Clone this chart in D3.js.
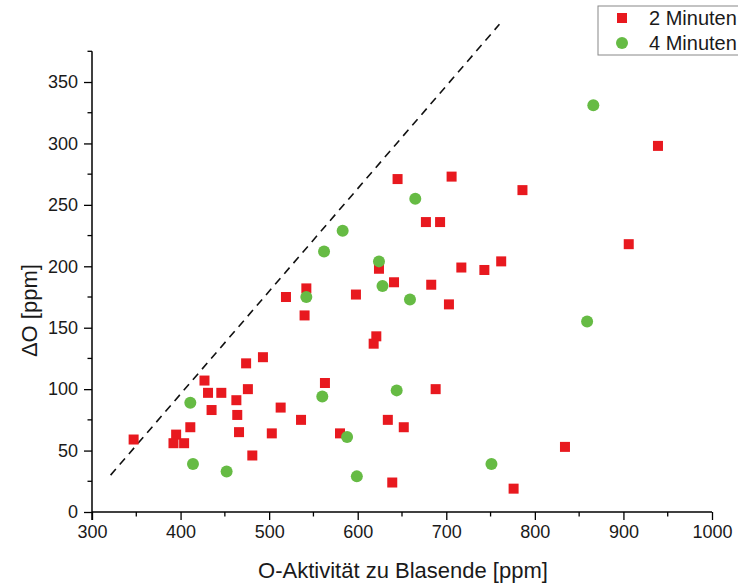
<!DOCTYPE html>
<html>
<head>
<meta charset="utf-8">
<script src="https://cdn.jsdelivr.net/npm/d3@7/dist/d3.min.js"></script>
<style>
  html, body { margin: 0; padding: 0; background: #fff; }
  svg { display: block; font-family: "Liberation Sans", Arial, sans-serif; }
</style>
</head>
<body>
<svg id="chart" width="738" height="586"></svg>
<script>
// O activity at end of blowing vs. oxygen drop, two blowing durations
const seriesNames = ["2 Minuten", "4 Minuten"];

const min2X = [347, 395, 392, 404, 411, 427, 431, 446, 435, 463, 464, 466, 476, 474, 493, 481,
               513, 503, 536, 540, 621, 618, 563, 688, 634, 652, 580, 639, 703, 834, 776, 645,
               706, 677, 693, 624, 641, 683, 717, 743, 762, 598, 542, 519, 939, 786, 906];
const min2Y = [59, 63, 56, 56, 69, 107, 97, 97, 83, 91, 79, 65, 100, 121, 126, 46,
               85, 64, 75, 160, 143, 137, 105, 100, 75, 69, 64, 24, 169, 53, 19, 271,
               273, 236, 236, 198, 187, 185, 199, 197, 204, 177, 182, 175, 298, 262, 218];

const min4X = [411, 414, 452, 560, 644, 588, 599, 859, 751, 665, 583, 562, 624, 628, 542, 659, 866];
const min4Y = [89, 39, 33, 94, 99, 61, 29, 155, 39, 255, 229, 212, 204, 184, 175, 173, 331];

// dashed reference line end points
const guideX = [321, 760];
const guideY = [30, 397];

const xTicks = [300, 400, 500, 600, 700, 800, 900, 1000];
const yTicks = [0, 50, 100, 150, 200, 250, 300, 350];

const xTitle = "O-Aktivität zu Blasende [ppm]";
const yTitle = "ΔO [ppm]";

const RED = "#e8191f";
const GREEN = "#66bb44";

const svg = d3.select("#chart");
const x = d3.scaleLinear().domain([300, 1000]).range([92, 712]);
const y = d3.scaleLinear().domain([0, 375]).range([512, 51.3]);

// dashed guide line
svg.append("line")
  .attr("x1", x(guideX[0])).attr("y1", y(guideY[0]))
  .attr("x2", x(guideX[1])).attr("y2", y(guideY[1]))
  .attr("stroke", "#111").attr("stroke-width", 1.6)
  .attr("stroke-dasharray", "8,6");

// axes
const xMinor = d3.range(350, 1000, 100);
const yMinor = d3.range(25, 400, 50);

const gx = svg.append("g").attr("transform", "translate(0,512)");
gx.call(d3.axisBottom(x).tickValues(xTicks).tickFormat(d3.format("d")).tickSize(8).tickPadding(5));
gx.append("g").selectAll("line").data(xMinor).join("line")
  .attr("x1", d => x(d)).attr("x2", d => x(d)).attr("y1", 0).attr("y2", 4.5)
  .attr("stroke", "#000").attr("stroke-width", 1.3);

const gy = svg.append("g").attr("transform", "translate(92,0)");
gy.call(d3.axisLeft(y).tickValues(yTicks).tickSize(8).tickPadding(6));
gy.append("g").selectAll("line").data(yMinor).join("line")
  .attr("y1", d => y(d)).attr("y2", d => y(d)).attr("x1", 0).attr("x2", -4.5)
  .attr("stroke", "#000").attr("stroke-width", 1.3);

[gx, gy].forEach(g => {
  g.select(".domain").attr("stroke", "#000").attr("stroke-width", 1.5);
  g.selectAll(".tick line").attr("stroke", "#000").attr("stroke-width", 1.3);
  g.selectAll(".tick text").attr("fill", "#1a1a1a")
    .style("font-size", "18px").style("font-family", "'Liberation Sans', Arial, sans-serif");
});
// axis lines span the full data range
gx.select(".domain").attr("d", `M${x(300)},0H${x(1000)}`);
gy.select(".domain").attr("d", `M0,${y(375)}V${y(0) + 8}`);

// axis titles
svg.append("text")
  .attr("x", (x(300) + x(1000)) / 2 + 1).attr("y", 578)
  .attr("text-anchor", "middle").attr("fill", "#1a1a1a")
  .style("font-size", "22px").text(xTitle);

svg.append("text")
  .attr("transform", `translate(37,${(y(0) + y(375)) / 2 + 29}) rotate(-90)`)
  .attr("text-anchor", "middle").attr("fill", "#1a1a1a")
  .style("font-size", "22px").text(yTitle);

// markers
const sq = 10;
svg.append("g").selectAll("rect").data(d3.zip(min2X, min2Y)).join("rect")
  .attr("x", d => x(d[0]) - sq / 2).attr("y", d => y(d[1]) - sq / 2)
  .attr("width", sq).attr("height", sq).attr("fill", RED);

svg.append("g").selectAll("circle").data(d3.zip(min4X, min4Y)).join("circle")
  .attr("cx", d => x(d[0])).attr("cy", d => y(d[1])).attr("r", 6)
  .attr("fill", GREEN);

// legend
const lg = svg.append("g");
lg.append("rect").attr("x", 598).attr("y", 6).attr("width", 160).attr("height", 49)
  .attr("fill", "#fff").attr("stroke", "#888").attr("stroke-width", 1);
lg.append("rect").attr("x", 617).attr("y", 13).attr("width", sq).attr("height", sq).attr("fill", RED);
lg.append("circle").attr("cx", 622).attr("cy", 43).attr("r", 6).attr("fill", GREEN);
lg.selectAll("text.lbl").data(seriesNames).join("text")
  .attr("class", "lbl")
  .attr("x", 649).attr("y", (d, i) => 25 + i * 25)
  .attr("fill", "#1a1a1a").style("font-size", "20px").text(d => d);
</script>
</body>
</html>
